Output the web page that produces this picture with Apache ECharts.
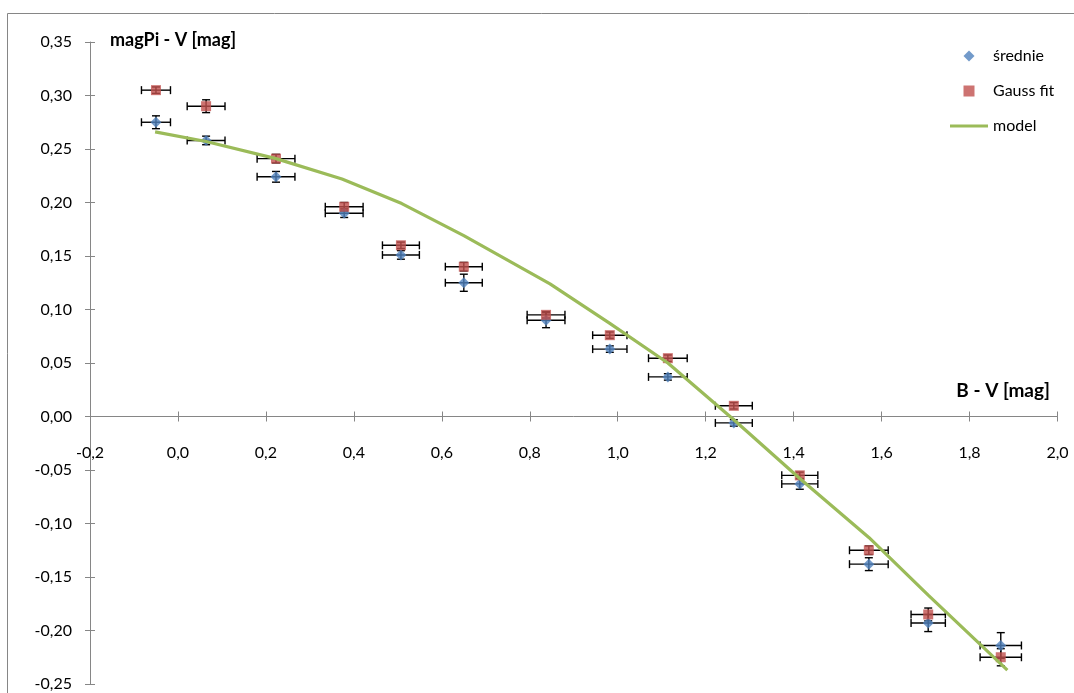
<!DOCTYPE html>
<html>
<head>
<meta charset="utf-8">
<script src="https://cdn.jsdelivr.net/npm/echarts@6/dist/echarts.min.js"></script>
<style>
html,body{margin:0;padding:0;background:#fff;}
#chart{width:1074px;height:693px;}
</style>
</head>
<body>
<div id="chart"></div>
<script>
// B - V values of the measured points
const bv = [-0.05, 0.064, 0.223, 0.378, 0.507, 0.650, 0.837, 0.982, 1.114, 1.264, 1.414, 1.571, 1.706, 1.871];
// series "średnie"
const srednie = [0.275, 0.258, 0.224, 0.190, 0.151, 0.125, 0.090, 0.063, 0.037, -0.006, -0.063, -0.138, -0.193, -0.214];
// series "Gauss fit"
const gaussFit = [0.305, 0.290, 0.241, 0.196, 0.160, 0.140, 0.095, 0.076, 0.0545, 0.010, -0.055, -0.125, -0.185, -0.225];
// horizontal error (B - V)
const bvErr = [0.033, 0.043, 0.043, 0.043, 0.042, 0.042, 0.043, 0.039, 0.044, 0.042, 0.041, 0.044, 0.039, 0.047];
// vertical errors
const srednieErr = [0.006, 0.004, 0.005, 0.004, 0.004, 0.008, 0.007, 0.003, 0.003, 0.003, 0.005, 0.006, 0.008, 0.012];
const gaussErr = [0.003, 0.006, 0.004, 0.004, 0.003, 0.004, 0.003, 0.003, 0.003, 0.003, 0.003, 0.004, 0.006, 0.008];
// model curve
const modelBV = [-0.052, 0.064, 0.223, 0.373, 0.509, 0.650, 0.846, 0.982, 1.114, 1.264, 1.414, 1.571, 1.706, 1.886];
const modelY = [0.266, 0.257, 0.241, 0.222, 0.199, 0.169, 0.124, 0.087, 0.050, -0.003, -0.058, -0.113, -0.167, -0.237];

const seriesNames = ['średnie', 'Gauss fit', 'model'];
const yAxisTitle = 'magPi - V [mag]';
const xAxisTitle = 'B - V [mag]';
const X_MIN = -0.2, X_MAX = 2.0, X_STEP = 0.2;
const Y_MIN = -0.25, Y_MAX = 0.35, Y_STEP = 0.05;

const FONT = 'Lato, "Open Sans", sans-serif';
const AXIS_COLOR = '#868686';

const W = 1074, H = 693;
const GRID = { left: 90, right: 16.5, top: 42, bottom: 9 };
const gridH = H - GRID.top - GRID.bottom;
// distance (px) from the grid bottom up to the y = 0 line, so the x axis crosses at zero
const zeroOffset = -gridH * (0 - Y_MIN) / (Y_MAX - Y_MIN);

function zip4(xs, ys, xe, ye) {
  return xs.map((x, i) => [x, ys[i], xe[i], ye[i]]);
}

function errorBarRender(params, api) {
  const x = api.value(0), y = api.value(1), ex = api.value(2), ey = api.value(3);
  const L = api.coord([x - ex, y]);
  const R = api.coord([x + ex, y]);
  const T = api.coord([x, y + ey]);
  const B = api.coord([x, y - ey]);
  const cap = 4;
  const st = { stroke: '#000', lineWidth: 1.4 };
  return {
    type: 'group',
    children: [
      { type: 'line', shape: { x1: L[0], y1: L[1], x2: R[0], y2: R[1] }, style: st },
      { type: 'line', shape: { x1: L[0], y1: L[1] - cap, x2: L[0], y2: L[1] + cap }, style: st },
      { type: 'line', shape: { x1: R[0], y1: R[1] - cap, x2: R[0], y2: R[1] + cap }, style: st },
      { type: 'line', shape: { x1: T[0], y1: T[1], x2: B[0], y2: B[1] }, style: st },
      { type: 'line', shape: { x1: T[0] - cap, y1: T[1], x2: T[0] + cap, y2: T[1] }, style: st },
      { type: 'line', shape: { x1: B[0] - cap, y1: B[1], x2: B[0] + cap, y2: B[1] }, style: st }
    ]
  };
}

const chart = echarts.init(document.getElementById('chart'), null, { renderer: 'canvas' });

const xCommon = { type: 'value', min: X_MIN, max: X_MAX, interval: X_STEP, position: 'bottom',
  offset: zeroOffset, splitLine: { show: false } };
const yCommon = { type: 'value', min: Y_MIN, max: Y_MAX, interval: Y_STEP, position: 'left',
  splitLine: { show: false } };

const legendText = { fontSize: 16, color: '#000', fontFamily: FONT, lineHeight: 14 };

const option = {
  backgroundColor: '#fff',
  animation: false,
  textStyle: { fontFamily: FONT },
  grid: Object.assign({ containLabel: false, outerBoundsMode: 'none' }, GRID),
  xAxis: [
    Object.assign({}, xCommon, {
      axisLine: { show: true, onZero: false, lineStyle: { color: AXIS_COLOR, width: 1 } },
      axisTick: { show: true, inside: false, length: 5, lineStyle: { color: AXIS_COLOR } },
      axisLabel: { margin: 28, color: '#000', fontSize: 16, fontFamily: FONT,
        formatter: v => v.toFixed(1).replace('.', ',') }
    }),
    Object.assign({}, xCommon, {
      axisLine: { show: false, onZero: false },
      axisTick: { show: true, inside: true, length: 5, lineStyle: { color: AXIS_COLOR } },
      axisLabel: { show: false }
    })
  ],
  yAxis: [
    Object.assign({}, yCommon, {
      axisLine: { show: true, onZero: false, lineStyle: { color: AXIS_COLOR, width: 1 } },
      axisTick: { show: true, inside: false, length: 5, lineStyle: { color: AXIS_COLOR } },
      axisLabel: { margin: 18, color: '#000', fontSize: 16, fontFamily: FONT,
        formatter: v => v.toFixed(2).replace('.', ',') }
    }),
    Object.assign({}, yCommon, {
      axisLine: { show: false, onZero: false },
      axisTick: { show: true, inside: true, length: 5, lineStyle: { color: AXIS_COLOR } },
      axisLabel: { show: false }
    })
  ],
  legend: {
    orient: 'vertical',
    left: 950,
    top: 48,
    padding: 0,
    itemWidth: 38,
    itemHeight: 11,
    itemGap: 19,
    symbolKeepAspect: true,
    textStyle: legendText,
    data: [
      { name: seriesNames[0], icon: 'path://M0,5L5,0L10,5L5,10Z', itemStyle: { color: '#4f81bd' } },
      { name: seriesNames[1], icon: 'path://M0,0H10V10H0Z', itemStyle: { color: '#c0504d' } },
      { name: seriesNames[2], icon: 'path://M0,0H38V3.2H0Z', itemStyle: { color: '#9bbb59' } }
    ]
  },
  graphic: [
    { type: 'rect', silent: true, z: -1,
      shape: { x: 7.5, y: 13.5, width: 1200, height: 800 },
      style: { fill: 'none', stroke: '#868686', lineWidth: 1 } },
    { type: 'text', left: 110, top: 31,
      style: { text: yAxisTitle, font: 'bold 18px ' + FONT, fill: '#000' } },
    { type: 'text', right: 24, top: 381,
      style: { text: xAxisTitle, font: 'bold 19px ' + FONT, fill: '#000' } }
  ],
  series: [
    {
      name: 'errSrednie', type: 'custom', renderItem: errorBarRender, z: 1,
      encode: { x: 0, y: 1 },
      data: zip4(bv, srednie, bvErr, srednieErr), silent: true
    },
    {
      name: 'errGauss', type: 'custom', renderItem: errorBarRender, z: 1,
      encode: { x: 0, y: 1 },
      data: zip4(bv, gaussFit, bvErr, gaussErr), silent: true
    },
    {
      name: seriesNames[0], type: 'scatter', symbol: 'diamond', symbolSize: 11, z: 3,
      itemStyle: { color: '#4f81bd' },
      data: bv.map((x, i) => [x, srednie[i]])
    },
    {
      name: seriesNames[1], type: 'scatter', symbol: 'rect', symbolSize: 10, z: 4,
      itemStyle: { color: '#c0504d' },
      data: bv.map((x, i) => [x, gaussFit[i]])
    },
    {
      name: seriesNames[2], type: 'line', showSymbol: false, symbol: 'none', z: 5,
      lineStyle: { color: '#9bbb59', width: 3.2 },
      itemStyle: { color: '#9bbb59' },
      data: modelBV.map((x, i) => [x, modelY[i]])
    }
  ]
};
chart.setOption(option);
</script>
</body>
</html>
